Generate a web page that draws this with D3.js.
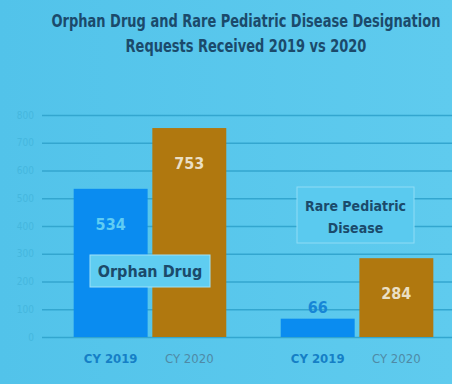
<!DOCTYPE html>
<html>
<head>
<meta charset="utf-8">
<script src="https://cdn.jsdelivr.net/npm/d3@7"></script>
<style>
  body { margin: 0; background: #56c5eb; }
  svg { display: block; }
</style>
</head>
<body>
<div id="chart"></div>
<script>
var width = 452
var height = 384

// data
var groups = ["Orphan Drug", "Rare Pediatric Disease"]
var years = ["CY 2019", "CY 2020"]
var orphanValues = [534, 753]
var pediatricValues = [66, 284]
var yTicks = [0, 100, 200, 300, 400, 500, 600, 700, 800]

var rows = [
  {group: groups[0], values: orphanValues},
  {group: groups[1], values: pediatricValues}
]

var svg = d3.select("#chart")
    .append("svg")
    .attr("width", width)
    .attr("height", height)

// background with a slight gradient like the photo
var defs = svg.append("defs")
var grad = defs.append("linearGradient").attr("id", "bg").attr("x1", 0).attr("x2", 1).attr("y1", 0).attr("y2", 0)
grad.append("stop").attr("offset", "0%").attr("stop-color", "#52c3ea")
grad.append("stop").attr("offset", "100%").attr("stop-color", "#5fcbee")
svg.append("rect").attr("width", width).attr("height", height).attr("fill", "url(#bg)")

var font = "'DejaVu Sans Condensed', 'DejaVu Sans', sans-serif"

// title, squeezed horizontally to look like the condensed slide font
var title = ["Orphan Drug and Rare Pediatric Disease Designation", "Requests Received 2019 vs 2020"]
var titleG = svg.append("g")
    .attr("transform", "translate(246,0) scale(0.85,1)")
titleG.selectAll(".title")
    .data(title)
    .enter()
    .append("text")
    .attr("class", "title")
    .attr("x", 0)
    .attr("y", function(d, i) { return 27 + i * 25 })
    .attr("text-anchor", "middle")
    .style("font-family", font)
    .style("font-weight", "bold")
    .style("font-size", "17px")
    .style("fill", "#1b4a6b")
    .text(function(d) { return d })

// scales
var y = d3.scaleLinear()
    .domain([0, 800])
    .range([337, 115])

var x0 = d3.scaleBand()
    .domain(groups)
    .range([42, 465])
    .paddingInner(0.263)
    .paddingOuter(0.153)

var x1 = d3.scaleBand()
    .domain(years)
    .range([0, x0.bandwidth()])
    .paddingInner(0.06)

var color = d3.scaleOrdinal()
    .domain(years)
    .range(["#0a8cf0", "#b0780f"])

// grid + y labels
var yAxis = svg.append("g")
    .attr("transform", "translate(42,0)")
    .call(d3.axisLeft(y).tickValues(yTicks).tickSize(-(width - 42)).tickPadding(8))
yAxis.select(".domain").remove()
yAxis.selectAll(".tick line")
    .attr("stroke", "#33a6cf")
    .attr("stroke-width", 1.5)
yAxis.selectAll(".tick text")
    .style("font-family", font)
    .style("font-size", "10px")
    .style("fill", "#45b7de")

// bars
var g = svg.selectAll(".grp")
    .data(rows)
    .enter()
    .append("g")
    .attr("class", "grp")
    .attr("transform", function(d) { return "translate(" + x0(d.group) + ",0)" })

var bars = g.selectAll(".bar")
    .data(function(d) { return d.values.map(function(v, i) { return {year: years[i], value: v, group: d.group} }) })
    .enter()

bars.append("rect")
    .attr("class", "bar")
    .attr("x", function(d) { return x1(d.year) })
    .attr("y", function(d) { return y(d.value) })
    .attr("width", x1.bandwidth())
    .attr("height", function(d) { return y(0) - y(d.value) })
    .attr("fill", function(d) { return color(d.year) })

// value labels: inside the bar unless the bar is too short
bars.append("text")
    .attr("x", function(d) { return x1(d.year) + x1.bandwidth() / 2 })
    .attr("y", function(d) {
      var h = y(0) - y(d.value)
      return h < 40 ? y(d.value) - 6 : y(d.value) + 41
    })
    .attr("text-anchor", "middle")
    .style("font-family", font)
    .style("font-weight", "bold")
    .style("font-size", "16px")
    .style("fill", function(d) {
      var h = y(0) - y(d.value)
      if (h < 40) return "#1685d6"
      return d.year == years[0] ? "#5fcdf3" : "#eadfc4"
    })
    .text(function(d) { return d.value })

// category labels under bars
bars.append("text")
    .attr("x", function(d) { return x1(d.year) + x1.bandwidth() / 2 })
    .attr("y", 363)
    .attr("text-anchor", "middle")
    .style("font-family", font)
    .style("font-weight", function(d) { return d.year == years[0] ? "bold" : "normal" })
    .style("font-size", "13px")
    .style("fill", function(d) { return d.year == years[0] ? "#157fc6" : "#4f8aa6" })
    .text(function(d) { return d.year })

// group label boxes
var orphanBox = {x: 90, y: 255, w: 120, h: 32}
svg.append("rect")
    .attr("x", orphanBox.x).attr("y", orphanBox.y)
    .attr("width", orphanBox.w).attr("height", orphanBox.h)
    .attr("fill", "#5fcdf1")
    .attr("stroke", "#9fe2f8")
    .attr("stroke-width", 1)
svg.append("text")
    .attr("x", orphanBox.x + orphanBox.w / 2)
    .attr("y", orphanBox.y + 22)
    .attr("text-anchor", "middle")
    .style("font-family", font)
    .style("font-weight", "bold")
    .style("font-size", "16px")
    .style("fill", "#1b4a6b")
    .text(groups[0])

var rareBox = {x: 297, y: 187, w: 117, h: 56}
svg.append("rect")
    .attr("x", rareBox.x).attr("y", rareBox.y)
    .attr("width", rareBox.w).attr("height", rareBox.h)
    .attr("fill", "#5acaef")
    .attr("stroke", "#8fdcf5")
    .attr("stroke-width", 1)
svg.selectAll(".rare")
    .data(["Rare Pediatric", "Disease"])
    .enter()
    .append("text")
    .attr("class", "rare")
    .attr("x", rareBox.x + rareBox.w / 2)
    .attr("y", function(d, i) { return rareBox.y + 24 + i * 22 })
    .attr("text-anchor", "middle")
    .style("font-family", font)
    .style("font-weight", "bold")
    .style("font-size", "14px")
    .style("fill", "#1b4a6b")
    .text(function(d) { return d })
</script>
</body>
</html>
